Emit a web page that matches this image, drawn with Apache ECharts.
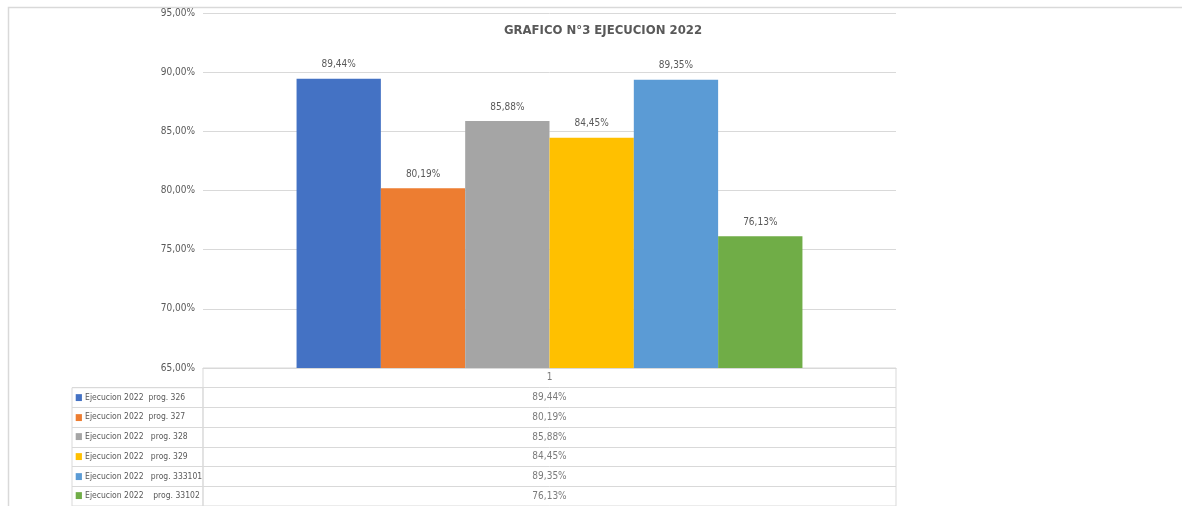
<!DOCTYPE html>
<html>
<head>
<meta charset="utf-8">
<script src="https://cdn.jsdelivr.net/npm/echarts@6/dist/echarts.min.js"></script>
<style>
html,body{margin:0;padding:0;background:#fff;}
#chart{width:1182px;height:506px;}
</style>
</head>
<body>
<div id="chart"></div>
<script>
const titleText = 'GRAFICO N°3 EJECUCION 2022';
const categories = ['1'];
const seriesNames = [
  'Ejecucion 2022  prog. 326',
  'Ejecucion 2022  prog. 327',
  'Ejecucion 2022   prog. 328',
  'Ejecucion 2022   prog. 329',
  'Ejecucion 2022   prog. 333101',
  'Ejecucion 2022    prog. 33102'
];
const seriesValues = [89.44, 80.19, 85.88, 84.45, 89.35, 76.13];
const seriesColors = ['#4472C4', '#ED7D31', '#A5A5A5', '#FFC000', '#5B9BD5', '#70AD47'];
const yMin = 65, yMax = 95, yStep = 5;

const FONT = '"Liberation Sans Narrow", "DejaVu Sans Condensed", "Roboto Condensed", sans-serif';
const TXT = '#595959';
const LINE = '#d9d9d9';
const fmt = v => v.toFixed(2).replace('.', ',') + '%';

// layout
const plotLeft = 203, plotRight = 896, plotTop = 13, plotBottom = 368;
const W = 1182, H = 506;
const rowCount = seriesNames.length + 1;
const rowH = (H - plotBottom) / rowCount;
const legendLeft = 72;

const chart = echarts.init(document.getElementById('chart'));

const barSeries = seriesNames.map((name, i) => ({
  name: name,
  type: 'bar',
  xAxisIndex: 0, yAxisIndex: 0,
  data: [seriesValues[i]],
  itemStyle: { color: seriesColors[i] },
  barGap: '0%',
  barCategoryGap: '27%',
  label: {
    show: true, position: 'top', distance: 9,
    color: TXT, fontFamily: FONT, fontSize: 10,
    formatter: p => fmt(p.value)
  }
}));

const tableRows = [categories[0]].concat(seriesNames);
const tableData = [[0.5, 0, categories[0]]].concat(
  seriesValues.map((v, i) => [0.5, i + 1, fmt(v)])
);

const richColors = {};
seriesColors.forEach((c, i) => {
  richColors['c' + i] = { color: c, fontSize: 9, fontFamily: FONT };
});
richColors.t = { color: TXT, fontSize: 8.5, fontFamily: FONT };

const option = {
  animation: false,
  backgroundColor: '#fff',
  title: {
    text: titleText,
    left: 598, top: 19,
    textAlign: 'center',
    textStyle: { color: TXT, fontFamily: FONT, fontWeight: 'bold', fontSize: 13 }
  },
  grid: [
    { left: plotLeft, width: plotRight - plotLeft, top: plotTop, height: plotBottom - plotTop },
    { left: plotLeft, width: plotRight - plotLeft, top: plotBottom, height: rowH * rowCount,
      show: true, borderColor: LINE, borderWidth: 1, backgroundColor: 'transparent' },
    { left: legendLeft, width: plotLeft - legendLeft, top: plotBottom + rowH, height: rowH * (rowCount - 1),
      show: true, borderColor: LINE, borderWidth: 1, backgroundColor: 'transparent' }
  ],
  xAxis: [
    { gridIndex: 0, type: 'category', data: categories,
      axisLine: { show: true, lineStyle: { color: LINE } },
      axisTick: { show: false }, axisLabel: { show: false } },
    { gridIndex: 1, type: 'value', min: 0, max: 1, show: false },
    { gridIndex: 2, type: 'value', min: 0, max: 1, show: false }
  ],
  yAxis: [
    { gridIndex: 0, type: 'value', min: yMin, max: yMax, interval: yStep,
      axisLine: { show: false }, axisTick: { show: false },
      splitLine: { lineStyle: { color: LINE, width: 1 } },
      axisLabel: { color: TXT, fontFamily: FONT, fontSize: 10, margin: 8,
        formatter: v => fmt(v) } },
    { gridIndex: 1, type: 'category', data: tableRows, inverse: true,
      axisLine: { show: false }, axisTick: { show: false }, axisLabel: { show: false },
      splitLine: { show: true, lineStyle: { color: LINE, width: 1 } } },
    { gridIndex: 2, type: 'category', data: seriesNames, inverse: true,
      axisLine: { show: false }, axisTick: { show: false },
      splitLine: { show: true, lineStyle: { color: LINE, width: 1 } },
      axisLabel: { inside: true, margin: 3, align: 'left', fontFamily: FONT, fontSize: 9, color: TXT,
        formatter: (v, i) => '{c' + i + '|■}{t| ' + v + '}', rich: richColors } }
  ],
  series: barSeries.concat([{
    type: 'scatter',
    xAxisIndex: 1, yAxisIndex: 1,
    symbolSize: 0,
    silent: true,
    data: tableData.map(d => ({ value: [d[0], d[1]], text: d[2] })),
    label: { show: true, position: 'inside', color: TXT, fontFamily: FONT, fontSize: 10,
      formatter: p => p.data.text }
  }]),
  graphic: [
    { type: 'rect', silent: true, z: -1,
      shape: { x: 8.5, y: 7.5, width: W + 20, height: H + 20 },
      style: { fill: 'none', stroke: LINE, lineWidth: 1.5 } }
  ]
};
chart.setOption(option);
</script>
</body>
</html>
